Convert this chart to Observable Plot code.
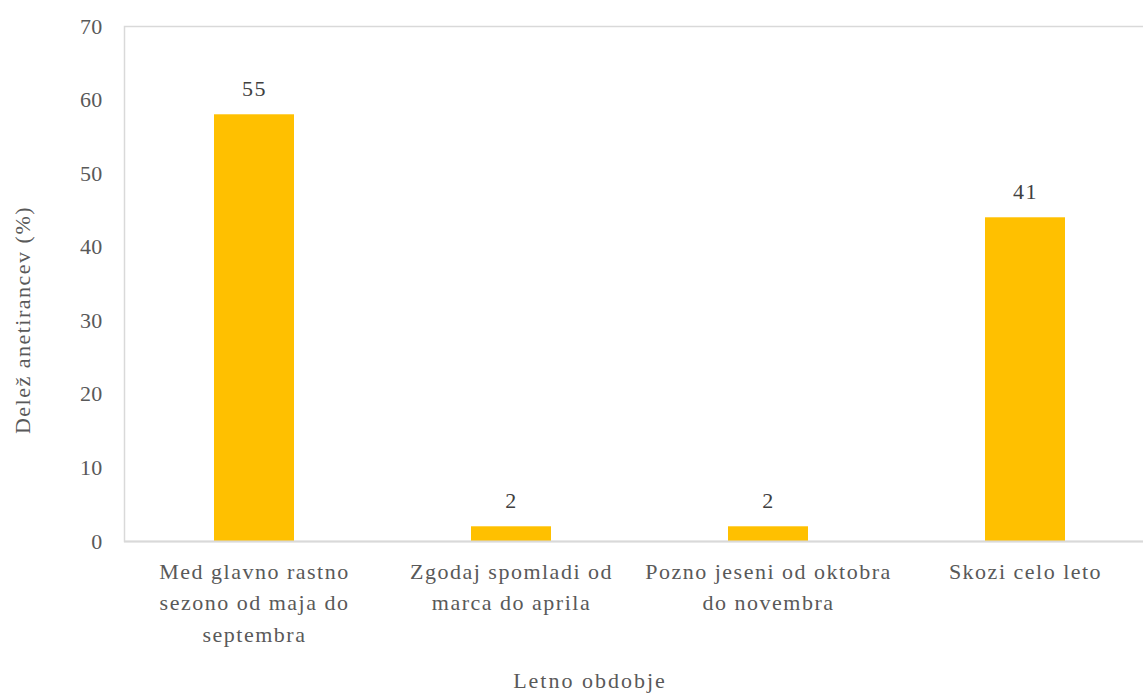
<!DOCTYPE html>
<html>
<head>
<meta charset="utf-8">
<script src="https://cdn.jsdelivr.net/npm/d3@7"></script>
<script src="https://cdn.jsdelivr.net/npm/@observablehq/plot@0.6"></script>
<style>
  html, body { margin: 0; padding: 0; background: #fff; }
  #chart svg { display: block; }
  #chart svg, #chart svg text { font-family: "Liberation Serif", "DejaVu Serif", serif !important; }
  #chart svg text { letter-spacing: 1.5px; }
  #chart svg g[aria-label="y-axis tick label"] text { letter-spacing: 0.3px; }
  #chart svg g.title-x text { letter-spacing: 2px; }
</style>
</head>
<body>
<div id="chart"></div>
<script>
const categories = [
  "Med glavno rastno sezono od maja do septembra",
  "Zgodaj spomladi od marca do aprila",
  "Pozno jeseni od oktobra do novembra",
  "Skozi celo leto"
];
const tickLabels = [
  "Med glavno rastno\nsezono od maja do\nseptembra",
  "Zgodaj spomladi od\nmarca do aprila",
  "Pozno jeseni od oktobra\ndo novembra",
  "Skozi celo leto"
];
const barValues = [58, 2, 2, 44];
const valueLabels = ["55", "2", "2", "41"];
const yTicks = [0, 10, 20, 30, 40, 50, 60, 70];
const yTitle = "Delež anetirancev (%)";
const xTitle = "Letno obdobje";

const data = categories.map((c, i) => ({cat: c, value: barValues[i], label: valueLabels[i], tick: tickLabels[i]}));
const tickMap = new Map(data.map(d => [d.cat, d.tick]));

const font = "Liberation Serif";

const chart = Plot.plot({
  width: 1143,
  height: 695,
  marginLeft: 124,
  marginTop: 26,
  marginBottom: 154,
  marginRight: -12,
  style: {background: "#fff"},
  x: {domain: categories, paddingInner: 0.69, paddingOuter: 0.345},
  y: {domain: [0, 70]},
  marks: [
    Plot.frame({stroke: "#d9d9d9", strokeWidth: 1.5}),
    Plot.barY(data, {x: "cat", y: "value", fill: "#FFC000"}),
    Plot.ruleY([0], {stroke: "#d9d9d9", strokeWidth: 2}),
    Plot.text(data, {x: "cat", y: "value", text: "label", dy: -26, fontSize: 22, fontFamily: font, fill: "#404040"}),
    Plot.axisY({ticks: yTicks, tickSize: 0, tickPadding: 22, fontSize: 22, fontFamily: font, fill: "#595959", label: null}),
    Plot.axisX({tickSize: 0, tickPadding: 15, fontSize: 22, fontFamily: font, fill: "#595959", label: null,
      tickFormat: d => tickMap.get(d), lineHeight: 1.43}),
    Plot.text([yTitle], {frameAnchor: "left", textAnchor: "middle", lineAnchor: "middle", rotate: -90, dx: -102, dy: 36, fontSize: 22, fontFamily: font, fill: "#595959"}),
    Plot.text([xTitle], {frameAnchor: "bottom", textAnchor: "middle", lineAnchor: "middle", dx: -50, dy: 139, fontSize: 22, fontFamily: font, fill: "#595959", className: "title-x"})
  ]
});
document.getElementById("chart").appendChild(chart);
</script>
</body>
</html>
